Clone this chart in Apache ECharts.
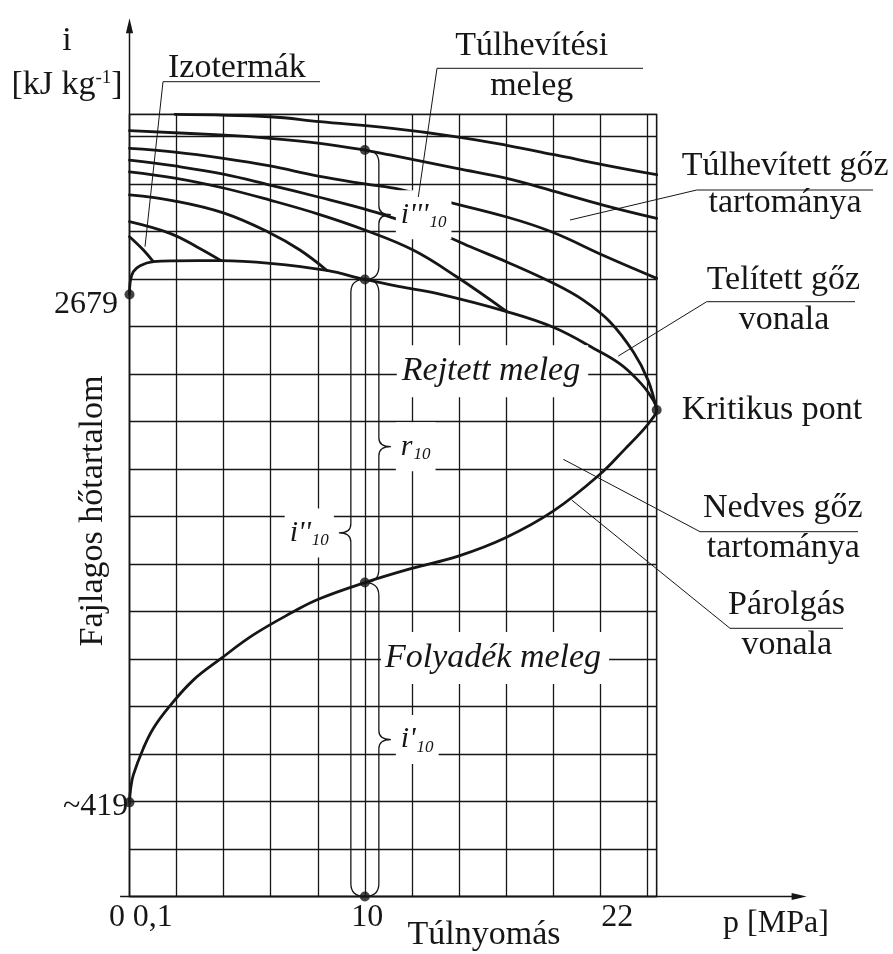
<!DOCTYPE html>
<html>
<head>
<meta charset="utf-8">
<title>i–p diagram</title>
<script src="https://cdn.jsdelivr.net/npm/echarts@6/dist/echarts.min.js"></script>
<style>
  html, body { margin: 0; padding: 0; background: #ffffff; }
  #chart { width: 893px; height: 954px; }
</style>
</head>
<body>
<div id="chart"></div>
<script>
// Specific enthalpy i [kJ/kg] against gauge pressure p [MPa]

// axis extents and grid spacing
const pressureStep = 2;
const criticalPressure = 22.4;
const enthalpyStep = 211.4;
const enthalpyTop = 3481;
const pressureAxisEnd = 28.77;
const enthalpyAxisEnd = 3909;
const referencePressure = 10;

// labelled pressures under the axis
const pressureTickLabels = [0, 0.1, 10, 22];

// boiling line (saturated liquid), up to the critical point
const liquidLine = [
  [0, 419], [0.05, 480], [0.16, 540], [0.59, 660], [1.01, 748], [1.69, 845],
  [2.71, 963], [3.85, 1056], [5.26, 1164], [6.96, 1267], [8.02, 1323], [10, 1397],
  [11.99, 1460], [13.97, 1515], [16.0, 1598], [18.0, 1715], [20.0, 1880],
  [21.05, 1991], [21.78, 2071], [22.2, 2125], [22.4, 2165]
];

// saturated vapour line, up to the critical point
const vaporLine = [
  [0, 2679], [0.03, 2736], [0.16, 2780], [0.45, 2807], [1.01, 2825], [1.93, 2829],
  [3.89, 2830], [5.97, 2818], [8.39, 2786], [10, 2746], [11.49, 2714], [13.05, 2684],
  [16.03, 2603], [18.01, 2533], [19.85, 2432], [20.84, 2370], [21.6, 2298], [22.11, 2232], [22.4, 2165]
];

// isotherms of the superheated region, hottest first
const isotherm1 = [[1.93, 3481], [5.97, 3470], [8.09, 3448], [11.07, 3419], [13.9, 3381], [16.03, 3343], [18.1, 3300], [20.2, 3255], [22.4, 3212]];
const isotherm2 = [[0, 3408], [3.84, 3389], [5.97, 3374], [8.09, 3352], [10, 3322], [11.07, 3300], [13.9, 3240], [16.03, 3196], [18.1, 3137], [20.2, 3075], [22.4, 3018]];
const isotherm3 = [[0, 3329], [1.93, 3313], [3.99, 3285], [5.97, 3251], [8.02, 3206], [10, 3171], [11.49, 3147], [13.18, 3100], [16.03, 3024], [17.93, 2958], [20.26, 2847], [22.4, 2751]];
const isotherm4 = [[0, 3277], [1.93, 3251], [3.99, 3215], [5.97, 3166], [8.02, 3113], [10, 3059], [11.49, 3010], [13.12, 2953], [14.61, 2886], [16.03, 2824], [18.01, 2729], [19.28, 2654], [20.42, 2557], [21.41, 2423], [22.03, 2298], [22.4, 2165]];
const isotherm5 = [[0, 3225], [1.93, 3197], [3.99, 3153], [5.97, 3099], [8.02, 3037], [10, 2966], [12.05, 2877], [13.9, 2758], [16.03, 2603]];
const isotherm6 = [[0, 3122], [1.93, 3095], [3.99, 3042], [5.97, 2953], [7.24, 2877], [8.39, 2786]];
const isotherm7 = [[0, 3003], [1.72, 2951], [2.85, 2892], [3.89, 2830]];
const isotherm8 = [[0, 2936], [0.59, 2877], [1.01, 2825]];
const isotherms = [isotherm1, isotherm2, isotherm3, isotherm4, isotherm5, isotherm6, isotherm7, isotherm8];

// ---- derived values ----
const criticalPoint = liquidLine[liquidLine.length - 1];
const valueAt = (line, p) => line.find(pt => pt[0] === p)[1];
const liquidAtRef = valueAt(liquidLine, referencePressure);
const vaporAtRef = valueAt(vaporLine, referencePressure);
const superheatAtRef = valueAt(isotherm2, referencePressure);
const saturationDome = liquidLine.concat(vaporLine.slice(0, -1).reverse());

const dots = [
  liquidLine[0], vaporLine[0], [referencePressure, 0],
  [referencePressure, liquidAtRef], [referencePressure, vaporAtRef],
  [referencePressure, superheatAtRef], criticalPoint
];

// ---- styling ----
const ink = '#161616';
const serif = "'Liberation Serif', 'Times New Roman', serif";
const fWord = '34px ' + serif;
const fNum = '32px ' + serif;
const fItal = 'italic 34px ' + serif;

// braces along the 10 MPa line; tip = enthalpy the brace points at
const braceNotes = [
  { from: 0, to: vaporAtRef, side: -1, tip: 1618, main: "i''", sub: '10' },
  { from: vaporAtRef, to: superheatAtRef, side: 1, tip: null, main: "i'''", sub: '10' },
  { from: liquidAtRef, to: vaporAtRef, side: 1, tip: 2002, main: 'r', sub: '10' },
  { from: 0, to: liquidAtRef, side: 1, tip: null, main: "i'", sub: '10' }
];

const pressureLabelNudge = [
  { dx: -4.5, align: 'right' },
  { dx: 1, align: 'left' },
  { dx: 2.5, align: 'center' },
  { dx: -30, align: 'center' }
];

const curve = (data) => ({
  type: 'line', data: data, smooth: 0.4, symbol: 'none', showSymbol: false,
  clip: false, silent: true, z: 3,
  lineStyle: { color: ink, width: 2.8, cap: 'round', join: 'round' }
});

function word(text, x, y, align, extra) {
  return {
    type: 'text', x: x, y: y, z: 50, silent: true,
    style: Object.assign({ text: text, font: fWord, fill: ink, align: align || 'left', verticalAlign: 'middle' }, extra || {})
  };
}
function rule(x1, y1, x2, y2) {
  return { type: 'line', z: 40, silent: true, shape: { x1: x1, y1: y1, x2: x2, y2: y2 }, style: { stroke: ink, lineWidth: 1 } };
}

const chart = echarts.init(document.getElementById('chart'), null, { renderer: 'canvas' });

chart.setOption({
  animation: false,
  backgroundColor: '#ffffff',
  grid: {
    left: 129.5, right: 236.3, top: 114.3, bottom: 57.5,
    show: true, borderColor: ink, borderWidth: 1.3, backgroundColor: 'transparent'
  },
  xAxis: {
    type: 'value', min: 0, max: criticalPressure, interval: pressureStep,
    axisLine: { show: false }, axisTick: { show: false }, axisLabel: { show: false },
    splitLine: { show: true, lineStyle: { color: ink, width: 1.3 } }
  },
  yAxis: {
    type: 'value', min: 0, max: enthalpyTop, interval: enthalpyStep,
    axisLine: { show: false }, axisTick: { show: false }, axisLabel: { show: false },
    splitLine: { show: true, lineStyle: { color: ink, width: 1.3 } }
  },
  series: [
    curve(saturationDome)
  ].concat(isotherms.map(curve)).concat([
    {
      type: 'scatter', data: dots, symbol: 'circle', symbolSize: 10, clip: false, silent: true, z: 4,
      itemStyle: { color: ink }
    },
    {
      type: 'custom', coordinateSystem: 'cartesian2d', clip: false, silent: true, z: 6,
      data: braceNotes.map(b => [referencePressure, b.from, b.to]),
      renderItem: function (params, api) {
        const b = braceNotes[params.dataIndex];
        const lo = api.coord([referencePressure, b.from]);
        const hi = api.coord([referencePressure, b.to]);
        const x0 = lo[0], yb = lo[1], yt = hi[1];
        const ym = b.tip != null ? api.coord([referencePressure, b.tip])[1] : (yt + yb) / 2;
        const s = b.side, xs = x0 + 14 * s, xt = x0 + 26 * s, r = 13, r2 = 9;
        const path = 'M' + x0 + ' ' + yt +
          ' Q' + xs + ' ' + yt + ' ' + xs + ' ' + (yt + r) +
          ' L' + xs + ' ' + (ym - r2) +
          ' Q' + xs + ' ' + ym + ' ' + xt + ' ' + ym +
          ' Q' + xs + ' ' + ym + ' ' + xs + ' ' + (ym + r2) +
          ' L' + xs + ' ' + (yb - r) +
          ' Q' + xs + ' ' + yb + ' ' + x0 + ' ' + yb;
        return {
          type: 'group',
          children: [
            { type: 'path', shape: { pathData: path }, style: { fill: 'none', stroke: ink, lineWidth: 1.3 } },
            {
              type: 'text', x: xt + 5 * s, y: ym, z2: 10,
              style: {
                text: '{m|' + b.main + '}{s|' + b.sub + '}',
                rich: {
                  m: { font: 'italic 30px ' + serif, fill: ink },
                  s: { font: 'italic 17px ' + serif, fill: ink, padding: [16, 0, 0, 1] }
                },
                fill: ink, align: s > 0 ? 'left' : 'right', verticalAlign: 'middle',
                backgroundColor: '#ffffff', padding: [8, 5]
              }
            }
          ]
        };
      }
    },
    {
      type: 'custom', coordinateSystem: 'cartesian2d', clip: false, silent: true, z: 7,
      data: [[0, 0]],
      renderItem: function (params, api) {
        const o = api.coord([0, 0]);
        const xTip = api.coord([pressureAxisEnd, 0]);
        const yTip = api.coord([0, enthalpyAxisEnd]);
        const xTail = api.coord([-0.4, 0]);
        const head = 15, half = 3.6;
        const kids = [
          { type: 'line', shape: { x1: xTail[0], y1: o[1], x2: xTip[0] - head + 1, y2: o[1] }, style: { stroke: ink, lineWidth: 1.5 } },
          { type: 'polygon', shape: { points: [[xTip[0], o[1]], [xTip[0] - head, o[1] - half], [xTip[0] - head, o[1] + half]] }, style: { fill: ink } },
          { type: 'line', shape: { x1: o[0], y1: o[1], x2: o[0], y2: yTip[1] + head - 1 }, style: { stroke: ink, lineWidth: 1.5 } },
          { type: 'polygon', shape: { points: [[o[0], yTip[1]], [o[0] - half, yTip[1] + head], [o[0] + half, yTip[1] + head]] }, style: { fill: ink } }
        ];
        pressureTickLabels.forEach(function (v, i) {
          const c = api.coord([v, 0]);
          const n = pressureLabelNudge[i];
          kids.push({
            type: 'text', x: c[0] + n.dx, y: c[1] + 21.5,
            style: { text: String(v).replace('.', ','), font: fNum, fill: ink, align: n.align, verticalAlign: 'middle' }
          });
        });
        const topStart = api.coord(vaporLine[0]);
        kids.push({
          type: 'text', x: topStart[0] - 11.5, y: topStart[1] + 10.5,
          style: { text: String(vaporLine[0][1]), font: fNum, fill: ink, align: 'right', verticalAlign: 'middle' }
        });
        const lowStart = api.coord(liquidLine[0]);
        kids.push({
          type: 'text', x: lowStart[0] - 1.2, y: lowStart[1] + 4.7,
          style: { text: '~' + liquidLine[0][1], font: fNum, fill: ink, align: 'right', verticalAlign: 'middle' }
        });
        return { type: 'group', children: kids };
      }
    }
  ]),
  graphic: [
    word('i', 67, 41.3, 'center'),
    {
      type: 'text', x: 67, y: 84.6, z: 50, silent: true,
      style: {
        text: '{n|[kJ kg}{p|-1}{n|]}',
        rich: { n: { font: fWord, fill: ink }, p: { font: '19px ' + serif, fill: ink, padding: [0, 0, 14, 0] } },
        fill: ink, align: 'center', verticalAlign: 'middle'
      }
    },
    {
      type: 'text', x: 93, y: 511, rotation: Math.PI / 2, z: 50, silent: true,
      style: { text: 'Fajlagos hőtartalom', font: fWord, fill: ink, align: 'center', verticalAlign: 'middle' }
    },
    word('Izotermák', 168, 67.6),
    rule(163, 81.7, 320, 81.7), rule(163, 81.7, 145, 246.7),
    word('Túlhevítési', 531.7, 46.3, 'center'),
    word('meleg', 531.7, 86.3, 'center'),
    rule(437, 68.3, 643, 68.3), rule(437, 68.3, 418.3, 197),
    word('Túlhevített gőz', 681.7, 166.3),
    word('tartománya', 785, 203, 'center'),
    rule(696.7, 190, 873, 190), rule(696.7, 190, 570, 220),
    word('Telített gőz', 706.7, 279.6),
    word('vonala', 784, 319.6, 'center'),
    rule(706.7, 301.7, 855, 301.7), rule(706.7, 301.7, 618.3, 356),
    word('Kritikus pont', 681.7, 409.6),
    word('Nedves gőz', 703, 508),
    word('tartománya', 783.3, 547.6, 'center'),
    rule(700, 531.7, 858, 531.7), rule(700, 531.7, 563.3, 459.3),
    word('Párolgás', 728, 604.6),
    word('vonala', 786.7, 644.6, 'center'),
    rule(730, 628.3, 843, 628.3), rule(730, 628.3, 571.7, 500),
    word('Rejtett meleg', 492.5, 371.3, 'center', { font: fItal, backgroundColor: '#ffffff', padding: [9, 8, 9, 5] }),
    word('Folyadék meleg', 495, 658, 'center', { font: fItal, backgroundColor: '#ffffff', padding: [9, 8, 9, 4] }),
    word('Túlnyomás', 484, 934.6, 'center'),
    word('p [MPa]', 776, 924, 'center', { font: fNum })
  ]
});
</script>
</body>
</html>
